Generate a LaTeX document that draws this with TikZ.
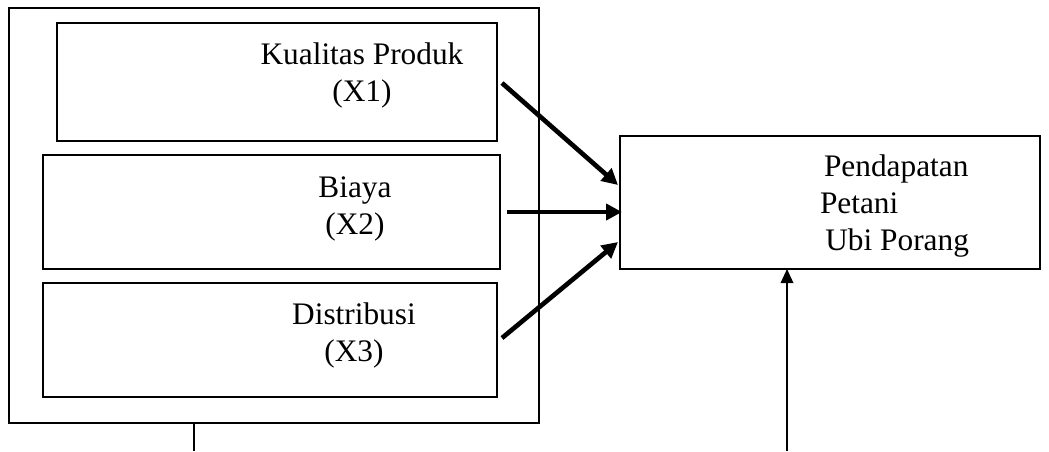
\documentclass[tikz,border=0pt]{standalone}
\usepackage{fontspec}
\setmainfont{Liberation Serif}
\usetikzlibrary{arrows.meta,calc}
\tikzset{
  box/.style={draw, line width=1.1pt, rectangle, inner sep=0pt, outer sep=0pt},
  lbl/.style={inner sep=0pt, outer sep=0pt, font=\fontsize{23.5}{27.75}\selectfont},
  thickarrow/.style={line width=3.5pt, -{Triangle[length=12pt,width=12pt]}},
  thinarrow/.style={line width=1pt, -{Triangle[length=10.5pt,width=9.5pt]}}
}
\begin{document}
\begin{tikzpicture}[x=0.75pt,y=-0.75pt]
\useasboundingbox (0,0) rectangle (1049,451);
% outer frame
\node[box, minimum width=397.5pt, minimum height=311.25pt] (outer) at (274,215.5) {};
% inner boxes
\node[box, minimum width=330pt, minimum height=88.5pt] (b1) at (277,82) {};
\node[box, minimum width=342.75pt, minimum height=85.5pt] (b2) at (271.5,212) {};
\node[box, minimum width=340.5pt, minimum height=85.5pt] (b3) at (270,340) {};
% target box
\node[box, minimum width=315pt, minimum height=99.75pt] (t) at (830,202.5) {};
% texts
\node[lbl, align=center] (l1) at (362,75) {Kualitas Produk\\(X1)};
\node[lbl, align=center] (l2) at (355,208.5) {Biaya\\(X2)};
\node[lbl, align=center] (l3) at (354,335) {Distribusi\\(X3)};
\node[lbl, align=left, anchor=west] (lt) at (820,206) {\hspace{3pt}Pendapatan\\Petani\\\hspace{4pt}Ubi Porang};
% arrows
\draw[thickarrow] ($(b1.east)+(5,1)$) -- ($(t.west)+(-2,-17.5)$);
\draw[thickarrow] ($(b2.east)+(7,0)$) -- ($(t.west)+(2,9.5)$);
\draw[thickarrow] ($(b3.east)+(5,-2)$) -- ($(t.west)+(-2,39.5)$);
% bottom lines
\coordinate (bot) at (787,451);
\coordinate (botl) at (194,451);
\draw[thinarrow] (bot) -- (bot |- t.south);
\draw[line width=1pt] (outer.south -| botl) -- (botl);
\end{tikzpicture}
\end{document}
